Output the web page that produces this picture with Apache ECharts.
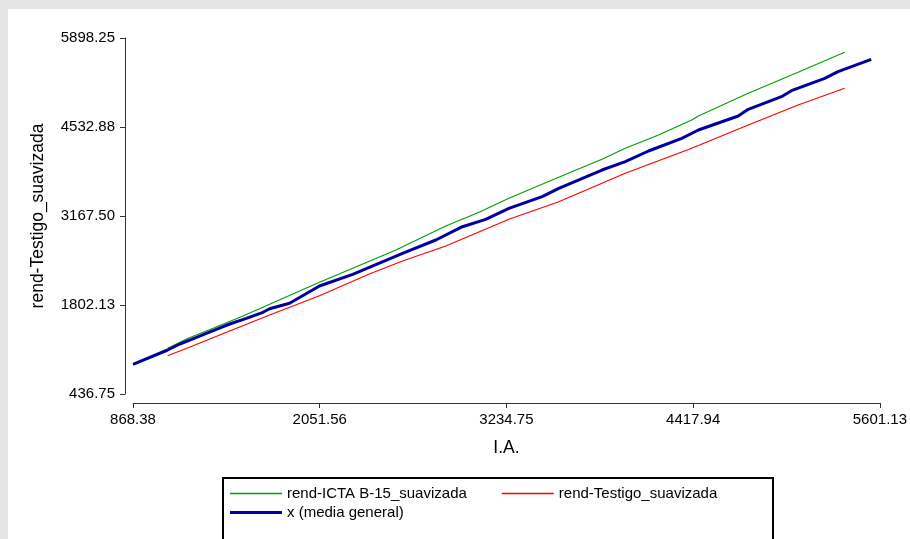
<!DOCTYPE html>
<html>
<head>
<meta charset="utf-8">
<script src="https://cdn.jsdelivr.net/npm/echarts@6/dist/echarts.min.js"></script>
<style>
  html, body { margin: 0; padding: 0; }
  body { width: 910px; height: 539px; background: #e4e4e4; position: relative; overflow: hidden; }
  #panel { position: absolute; left: 8px; top: 9px; width: 902px; height: 530px; background: #ffffff; }
  #chart { position: absolute; left: 0; top: 0; width: 910px; height: 539px; }
</style>
</head>
<body>
<div id="panel"></div>
<div id="chart"></div>
<script>
// Axis ticks (I.A. on x, yield on y)
const xTickLabels = ['868.38', '2051.56', '3234.75', '4417.94', '5601.13'];
const yTickLabels = ['436.75', '1802.13', '3167.50', '4532.88', '5898.25'];

// rend-ICTA B-15 (smoothed)
const ictaX = [1087.7, 1217.8, 1375.8, 1565.3, 1734.0, 2050.0, 2260.4, 2534.6, 2850.5, 3061.0,
               3250.5, 3524.1, 3840.1, 3987.9, 4198.3, 4408.8, 4451.1, 4767.0, 5082.9, 5378.0];
const ictaY = [1137.8, 1291.2, 1444.7, 1633.4, 1812.8, 2151.9, 2365.1, 2645.9, 3014.0, 3224.2,
               3439.0, 3719.7, 4037.3, 4206.0, 4410.1, 4640.2, 4701.5, 5049.8, 5371.9, 5678.7];

// rend-Testigo (smoothed)
const testigoX = [1087.7, 1217.8, 1481.3, 1734.0, 2050.0, 2365.9, 2576.3, 2850.5, 3250.5, 3566.4,
                  3987.9, 4387.9, 4451.1, 4767.0, 5082.9, 5378.0];
const testigoY = [1024.3, 1147.0, 1403.2, 1648.7, 1944.8, 2277.7, 2477.1, 2707.2, 3116.8, 3386.8,
                  3822.5, 4187.6, 4249.0, 4563.5, 4870.3, 5126.5];

// general mean
const mediaX = [868.38, 1087.7, 1165.4, 1270.9, 1375.8, 1481.3, 1586.8, 1691.7, 1734.0, 1860.4,
                2050.0, 2260.4, 2576.3, 2787.4, 2955.5, 3103.3, 3250.5, 3461.0, 3566.4, 3840.1,
                3987.9, 4135.1, 4345.6, 4451.1, 4703.8, 4767.0, 4977.4, 5040.6, 5251.6, 5335.7, 5546.1];
const mediaY = [892.0, 1111.8, 1203.8, 1306.6, 1407.8, 1510.6, 1598.1, 1690.1, 1745.3, 1828.2,
                2093.6, 2273.1, 2595.2, 2799.3, 3003.3, 3116.8, 3285.6, 3463.5, 3592.4, 3873.1,
                4000.5, 4164.6, 4359.4, 4486.8, 4701.5, 4804.3, 4997.6, 5089.7, 5279.9, 5381.2, 5571.4];

const seriesNames = ['rend-ICTA B-15_suavizada', 'rend-Testigo_suavizada', 'x (media general)'];

const zip = (xs, ys) => xs.map((x, i) => [x, ys[i]]);

const xMin = parseFloat(xTickLabels[0]);
const xMax = parseFloat(xTickLabels[xTickLabels.length - 1]);
const xStep = (xMax - xMin) / (xTickLabels.length - 1);
const yMin = parseFloat(yTickLabels[0]);
const yMax = parseFloat(yTickLabels[yTickLabels.length - 1]);
const yStep = (yMax - yMin) / (yTickLabels.length - 1);

const FONT = '"Liberation Sans", Arial, sans-serif';
const axisColor = '#333333';

const chart = echarts.init(document.getElementById('chart'), null, { renderer: 'canvas' });

chart.setOption({
  backgroundColor: 'transparent',
  animation: false,
  textStyle: { fontFamily: FONT },
  grid: { left: 133, right: 28, top: 38, bottom: 145, containLabel: false },
  xAxis: {
    type: 'value',
    min: xMin, max: xMax, interval: xStep,
    offset: 9,
    name: 'I.A.',
    nameLocation: 'middle',
    nameGap: 36,
    nameTextStyle: { fontSize: 17.5, color: '#000', fontFamily: FONT },
    axisLine: { show: true, lineStyle: { color: axisColor, width: 1 } },
    axisTick: { show: true, length: 5, lineStyle: { color: axisColor, width: 1 } },
    axisLabel: {
      fontSize: 15, color: '#000', fontFamily: FONT, margin: 9,
      showMinLabel: true, showMaxLabel: true,
      formatter: v => xTickLabels[Math.round((v - xMin) / xStep)] || ''
    },
    splitLine: { show: false }
  },
  yAxis: {
    type: 'value',
    min: yMin, max: yMax, interval: yStep,
    offset: 8,
    name: 'rend-Testigo_suavizada',
    nameLocation: 'middle',
    nameGap: 78,
    nameTextStyle: { fontSize: 17.5, color: '#000', fontFamily: FONT },
    axisLine: { show: true, lineStyle: { color: axisColor, width: 1 } },
    axisTick: { show: true, length: 5, lineStyle: { color: axisColor, width: 1 } },
    axisLabel: {
      fontSize: 15, color: '#000', fontFamily: FONT, margin: 10,
      showMinLabel: true, showMaxLabel: true,
      formatter: v => yTickLabels[Math.round((v - yMin) / yStep)] || ''
    },
    splitLine: { show: false }
  },
  legend: [
    {
      data: [seriesNames[0], seriesNames[1]],
      icon: 'rect',
      left: 230, top: 486,
      padding: 0, itemGap: 35, itemWidth: 52, itemHeight: 1.6,
      textStyle: { fontSize: 15, color: '#000', fontFamily: FONT }
    },
    {
      data: [seriesNames[2]],
      icon: 'rect',
      left: 230, top: 505,
      padding: 0, itemWidth: 52, itemHeight: 3,
      textStyle: { fontSize: 15, color: '#000', fontFamily: FONT }
    }
  ],
  graphic: [
    {
      type: 'rect',
      shape: { x: 223, y: 478, width: 550, height: 90 },
      style: { fill: 'transparent', stroke: '#000', lineWidth: 2 },
      silent: true
    }
  ],
  series: [
    {
      name: seriesNames[0], type: 'line', data: zip(ictaX, ictaY),
      symbol: 'none', smooth: false,
      lineStyle: { color: '#00a000', width: 1.2 }, itemStyle: { color: '#00a000' }
    },
    {
      name: seriesNames[1], type: 'line', data: zip(testigoX, testigoY),
      symbol: 'none', smooth: false,
      lineStyle: { color: '#ff0000', width: 1.2 }, itemStyle: { color: '#ff0000' }
    },
    {
      name: seriesNames[2], type: 'line', data: zip(mediaX, mediaY),
      symbol: 'none', smooth: false,
      lineStyle: { color: '#0000a0', width: 3 }, itemStyle: { color: '#0000a0' }
    }
  ]
});
</script>
</body>
</html>
